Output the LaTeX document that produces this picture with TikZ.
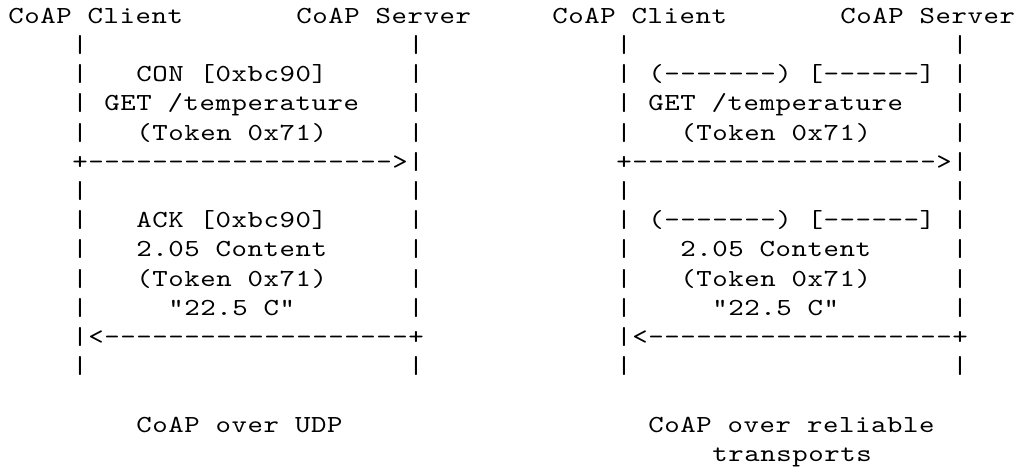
\documentclass[tikz,border=0pt]{standalone}
\usepackage{fontspec}
\newfontfamily\asciifont[Extension=.otf,FakeStretch=1.2,LetterSpace=2.3]{lmmono10-regular}
\newcommand\asc[4]{\node[txt] (#1) at ({8.3+16*#2},{-23.3-29.2*#3}) {#4};}
\begin{document}
\begin{tikzpicture}[x=1pt,y=1pt,
  txt/.style={anchor=base west,inner sep=0pt,outer sep=0pt,
    font=\asciifont\fontsize{24.5}{29.2}\selectfont}]
\useasboundingbox (0,0) rectangle (1020,-470);
% headers
\asc{lc}{0}{0}{CoAP Client}
\asc{ls}{18}{0}{CoAP Server}
\asc{rc}{34}{0}{CoAP Client}
\asc{rs}{52}{0}{CoAP Server}
% lifeline rows
\foreach \r in {1,2,3,4,6,7,8,9,10,12}{
  \asc{lcp\r}{4}{\r}{|}
  \asc{rcp\r}{38}{\r}{|}
}
\foreach \r in {1,2,3,4,6,7,8,9,10,12}{
  \asc{lsp\r}{25}{\r}{|}
  \asc{rsp\r}{59}{\r}{|}
}
% request texts
\asc{lcon}{8}{2}{CON [0xbc90]}
\asc{rcon}{40}{2}{(-------) [------]}
\asc{lget}{6}{3}{GET /temperature}
\asc{rget}{40}{3}{GET /temperature}
\asc{ltok}{8}{4}{(Token 0x71)}
\asc{rtok}{42}{4}{(Token 0x71)}
% request arrows
\asc{lreq}{4}{5}{+------------------->|}
\asc{rreq}{38}{5}{+------------------->|}
% response texts
\asc{lack}{8}{7}{ACK [0xbc90]}
\asc{rack}{40}{7}{(-------) [------]}
\asc{lcont}{8}{8}{2.05 Content}
\asc{rcont}{42}{8}{2.05 Content}
\asc{ltok2}{8}{9}{(Token 0x71)}
\asc{rtok2}{42}{9}{(Token 0x71)}
\asc{lval}{10}{10}{"22.5 C"}
\asc{rval}{44}{10}{"22.5 C"}
% response arrows
\asc{lres}{4}{11}{|<-------------------+}
\asc{rres}{38}{11}{|<-------------------+}
% captions
\asc{lcap}{8}{14}{CoAP over UDP}
\asc{rcap}{40}{14}{CoAP over reliable}
\asc{rcap2}{44}{15}{transports}
\end{tikzpicture}
\end{document}
